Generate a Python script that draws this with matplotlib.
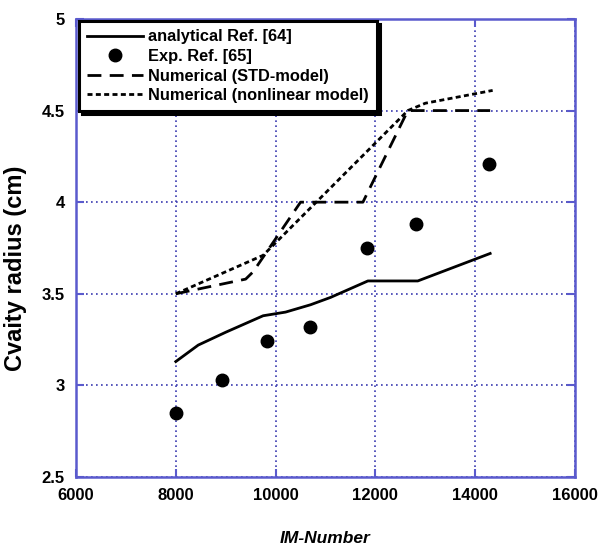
import matplotlib
matplotlib.use("Agg")
import matplotlib.pyplot as plt

# values
ana_x = [8000, 8450, 9000, 9750, 10200, 10700, 11100, 11850, 12850, 14300]
ana_y = [3.13, 3.22, 3.29, 3.38, 3.40, 3.44, 3.48, 3.57, 3.57, 3.72]

exp_x = [8000, 8930, 9830, 10690, 11830, 12810, 14280]
exp_y = [2.85, 3.03, 3.24, 3.32, 3.75, 3.88, 4.21]

std_x = [8000, 9400, 9550, 10500, 11750, 12650, 14300]
std_y = [3.5, 3.58, 3.62, 4.0, 4.0, 4.5, 4.5]

nl_x = [8000, 9750, 12650, 13000, 14350]
nl_y = [3.5, 3.71, 4.5, 4.54, 4.61]

x_ticks = [6000, 8000, 10000, 12000, 14000, 16000]
y_ticks = [2.5, 3, 3.5, 4, 4.5, 5]

plt.rcParams['font.family'] = ['Liberation Sans', 'DejaVu Sans']

fig = plt.figure(figsize=(6.1, 5.48), dpi=100)
ax = fig.add_axes([0.1246, 0.1296, 0.818, 0.8358])

spine_col = '#5a5acd'
grid_col = '#3a3ab0'

ax.plot(ana_x, ana_y, color='black', lw=2, label='analytical Ref. [64]')
ax.plot(exp_x, exp_y, 'o', color='black', ms=9, label='Exp. Ref. [65]')
ax.plot(std_x, std_y, color='black', lw=2, dashes=(5, 3), label='Numerical (STD-model)')
ax.plot(nl_x, nl_y, color='black', lw=2, dashes=(1.8, 1.2), label='Numerical (nonlinear model)')

ax.set_xlim(6000, 16000)
ax.set_ylim(2.5, 5)
ax.set_xticks(x_ticks)
ax.set_yticks(y_ticks)
ax.set_yticklabels(['2.5', '3', '3.5', '4', '4.5', '5'])
ax.grid(True, color=grid_col, linestyle=(0, (1, 2)), lw=1.2)

for s in ax.spines.values():
    s.set_color(spine_col)
    s.set_linewidth(1.8)
ax.tick_params(direction='in', length=6, width=1.5, color=spine_col,
               top=True, right=True, labelsize=12, pad=8)
for lab in ax.get_xticklabels() + ax.get_yticklabels():
    lab.set_fontweight('bold')

ax.set_xlabel('IM-Number', fontsize=12.5, fontweight='bold', style='italic', labelpad=20)
ax.set_ylabel('Cvaity radius (cm)', fontsize=17, fontweight='bold')
ax.yaxis.set_label_coords(-0.098, 0.455)

leg = ax.legend(loc='upper left', bbox_to_anchor=(0.006, 0.995), borderaxespad=0,
                frameon=True, fancybox=False, shadow={'color': 'black', 'alpha': 1},
                prop={'weight': 'bold', 'size': 11.8}, handlelength=3.4,
                handletextpad=0.3, labelspacing=0.28, borderpad=0.5)
leg.get_frame().set_edgecolor('black')
leg.get_frame().set_linewidth(2.2)
leg.get_frame().set_alpha(1)

fig.savefig('out.png', dpi=100)
